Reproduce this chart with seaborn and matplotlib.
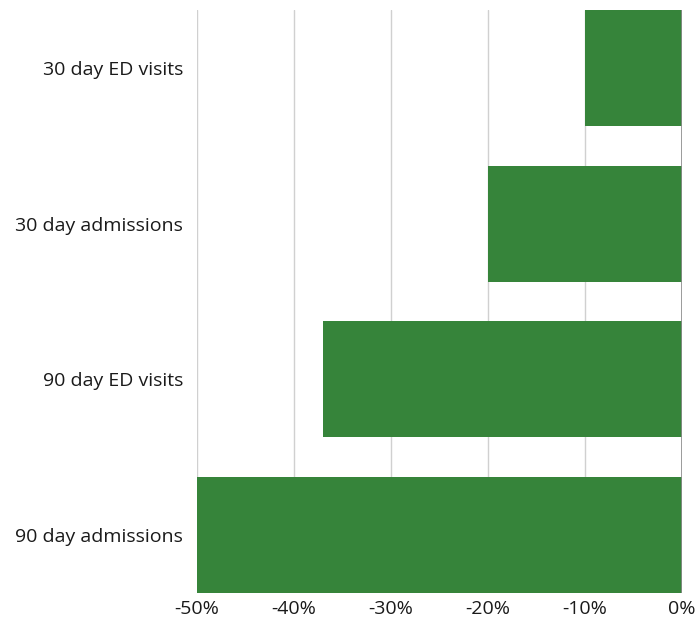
import pandas as pd
import matplotlib.pyplot as plt
import seaborn as sns

# Values
measures = ["30 day ED visits", "30 day admissions", "90 day ED visits", "90 day admissions"]
change = [-10, -20, -37, -50]
tick_vals = [-50, -40, -30, -20, -10, 0]
tick_labels = ["-50%", "-40%", "-30%", "-20%", "-10%", "0%"]

df = pd.DataFrame({"measure": measures, "change": change})

sns.set_style("white")
plt.rcParams["font.family"] = ["Open Sans", "DejaVu Sans"]

fig = plt.figure(figsize=(6.95, 6.18), dpi=100)
ax = fig.add_axes([197 / 695, 25 / 618, 485 / 695, 583 / 618])

sns.barplot(data=df, x="change", y="measure", color="#36843a", saturation=1,
            width=0.745, orient="h", ax=ax, zorder=2, linewidth=0)

ax.set_xlim(-50, 0)
ax.set_ylim(3.375, -0.375)
ax.set_xticks(tick_vals)
ax.set_xticklabels(tick_labels)
ax.xaxis.grid(True, color="#d0d0d0", linewidth=1, zorder=0)
ax.set_axisbelow(True)
ax.axvline(0, color="#8c8c8c", linewidth=1.2, zorder=3)
for s in ax.spines.values():
    s.set_visible(False)
ax.tick_params(axis="both", length=0, labelsize=14, colors="#1a1a1a")
ax.tick_params(axis="x", pad=5)
ax.tick_params(axis="y", pad=10)
ax.set_xlabel("")
ax.set_ylabel("")

plt.savefig("out.png", dpi=100)
